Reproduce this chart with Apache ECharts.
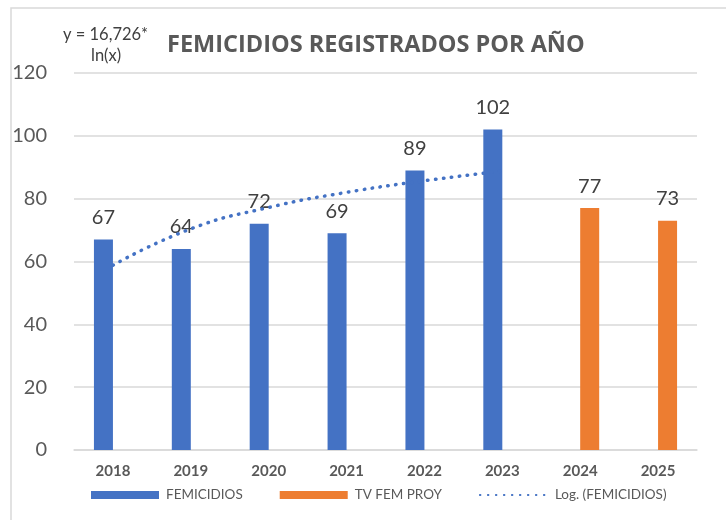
<!DOCTYPE html>
<html>
<head>
<meta charset="utf-8">
<script src="https://cdn.jsdelivr.net/npm/echarts@6/dist/echarts.min.js"></script>
<style>
  html, body { margin: 0; padding: 0; background: #fff; }
  #chart { width: 726px; height: 520px; }
</style>
</head>
<body>
<div id="chart"></div>
<script>
// values
const years = ['2018', '2019', '2020', '2021', '2022', '2023', '2024', '2025'];
const femicidios = [67, 64, 72, 69, 89, 102, null, null];
const tvFemProy = [null, null, null, null, null, null, 77, 73];
const logTrend = [58.8, 70.4, 77.2, 82.0, 85.7, 88.8, null, null];
const yTicks = [0, 20, 40, 60, 80, 100, 120];

const FONT = 'Lato, "Open Sans", sans-serif';
const chart = echarts.init(document.getElementById('chart'));

const barLabel = {
    show: true,
    position: 'top',
    distance: 12,
    fontFamily: FONT,
    fontSize: 20,
    color: '#404040'
};

chart.setOption({
    animation: false,
    textStyle: { fontFamily: FONT },
    title: {
        text: 'FEMICIDIOS REGISTRADOS POR AÑO',
        left: 167,
        top: 33,
        padding: 0,
        textStyle: { fontFamily: '"Open Sans", sans-serif', fontSize: 23.5, fontWeight: 'bold', color: '#595959' }
    },
    graphic: [
        {
            type: 'rect',
            shape: { x: 11, y: 8, width: 740, height: 540 },
            style: { fill: 'none', stroke: '#D9D9D9', lineWidth: 1.5 },
            silent: true
        },
        {
            type: 'text',
            left: 63, top: 26,
            style: { text: 'y = 16,726*', fontFamily: FONT, fontSize: 16.5, fill: '#404040' }
        },
        {
            type: 'text',
            left: 91, top: 47,
            style: { text: 'ln(x)', fontFamily: FONT, fontSize: 16.5, fill: '#404040' }
        }
    ],
    legend: {
        left: 91,
        top: 488,
        padding: 0,
        itemWidth: 68,
        itemHeight: 8,
        itemGap: 37,
        textStyle: { fontFamily: FONT, fontSize: 13.5, color: '#595959', padding: [0, 0, 0, 2] },
        data: [
            { name: 'FEMICIDIOS', icon: 'rect' },
            { name: 'TV FEM PROY', icon: 'rect' },
            { name: 'Log. (FEMICIDIOS)', itemStyle: { opacity: 0 } }
        ]
    },
    grid: { left: 74, right: 29, top: 73, bottom: 70 },
    xAxis: {
        type: 'category',
        data: years,
        axisLine: { lineStyle: { color: '#D9D9D9', width: 1.5 } },
        axisTick: { show: false },
        axisLabel: { margin: 14, fontFamily: FONT, fontSize: 15, fontWeight: 'bold', color: '#595959' }
    },
    yAxis: {
        type: 'value',
        min: yTicks[0],
        max: yTicks[yTicks.length - 1],
        interval: 20,
        axisLine: { show: false },
        axisTick: { show: false },
        axisLabel: { margin: 27, fontFamily: FONT, fontSize: 20, color: '#595959' },
        splitLine: { lineStyle: { color: '#D9D9D9', width: 1.5 } }
    },
    series: [
        {
            name: 'FEMICIDIOS',
            type: 'bar',
            data: femicidios,
            barWidth: 19,
            barGap: '0%',
            itemStyle: { color: '#4472C4' },
            label: barLabel
        },
        {
            name: 'TV FEM PROY',
            type: 'bar',
            data: tvFemProy,
            barWidth: 19,
            itemStyle: { color: '#ED7D31' },
            label: barLabel
        },
        {
            name: 'Log. (FEMICIDIOS)',
            type: 'line',
            data: logTrend,
            symbol: 'none',
            smooth: true,
            z: 5,
            itemStyle: { color: '#4472C4' },
            lineStyle: { color: '#4472C4', width: 3.5, type: [0.5, 7.5], cap: 'round' }
        }
    ]
});
</script>
</body>
</html>
